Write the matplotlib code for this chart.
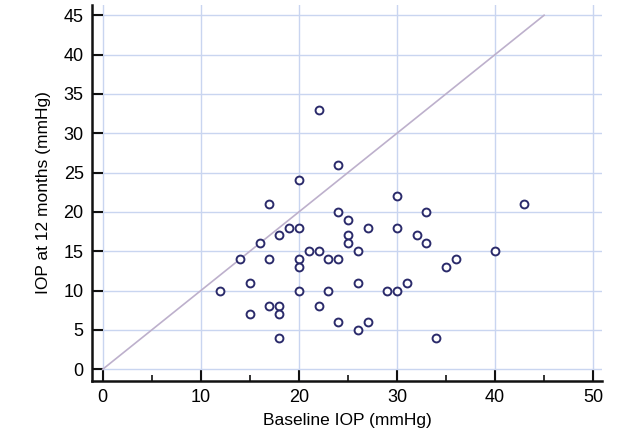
import matplotlib
matplotlib.use("Agg")
import matplotlib.pyplot as plt
from matplotlib.ticker import MultipleLocator

# baseline IOP vs IOP at 12 months (mmHg)
baseline = [12, 14, 15, 15, 16, 17, 17, 17, 18, 18, 18, 18, 19, 20, 20, 20, 20, 20,
            21, 22, 22, 22, 23, 23, 24, 24, 24, 24, 25, 25, 25, 26, 26, 26, 27, 27,
            29, 30, 30, 30, 31, 32, 33, 33, 34, 35, 36, 40, 43]
iop12 = [10, 14, 11, 7, 16, 21, 14, 8, 17, 8, 7, 4, 18, 24, 18, 14, 13, 10,
         15, 33, 15, 8, 14, 10, 26, 20, 14, 6, 19, 17, 16, 15, 11, 5, 18, 6,
         10, 22, 18, 10, 11, 17, 20, 16, 4, 13, 14, 15, 21]
identity = [0, 45]

plt.rcParams['font.family'] = ['Liberation Sans', 'DejaVu Sans']

fig = plt.figure(figsize=(6.37, 4.41), dpi=100)
ax = fig.add_axes([0.1444, 0.136, 0.8006, 0.8527])

# line of equality
ax.plot(identity, identity, color='#bdb0cc', lw=1.2, zorder=2)
ax.scatter(baseline, iop12, s=32, facecolors='white', edgecolors='#2b2b6b',
           linewidths=1.4, zorder=3)

ax.set_xlim(-1.1, 50.9)
ax.set_ylim(-1.5, 46.3)
ax.xaxis.set_major_locator(MultipleLocator(10))
ax.xaxis.set_minor_locator(MultipleLocator(5))
ax.yaxis.set_major_locator(MultipleLocator(5))

ax.grid(True, which='major', color='#c9d5f0', lw=1.0, zorder=0)
ax.set_axisbelow(True)

for s in ['top', 'right']:
    ax.spines[s].set_visible(False)
for s in ['left', 'bottom']:
    ax.spines[s].set_linewidth(1.8)
    ax.spines[s].set_color('#111111')

ax.tick_params(axis='both', which='major', direction='in', length=8, width=1.5,
               labelsize=13, color='#111111', pad=6)
ax.tick_params(axis='x', which='minor', direction='in', length=4, width=1.2,
               color='#111111')

ax.set_xlabel('Baseline IOP (mmHg)', fontsize=12.5, labelpad=5)
ax.set_ylabel('IOP at 12 months (mmHg)', fontsize=12.5, labelpad=9)

fig.savefig('out.png', dpi=100)
